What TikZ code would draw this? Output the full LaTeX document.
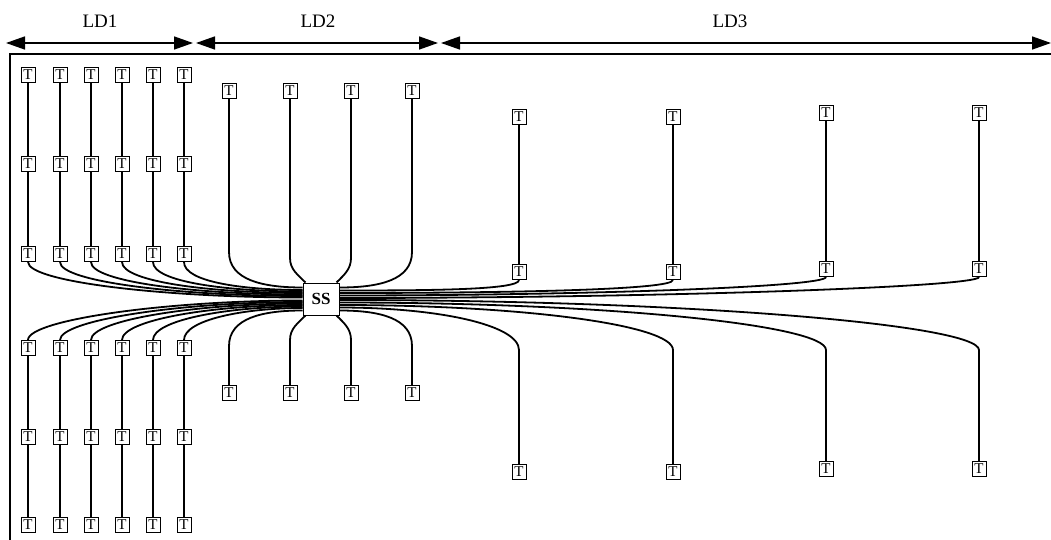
\documentclass[tikz,border=0pt]{standalone}
\usepackage{fontspec}
\setmainfont{Liberation Serif}
\usetikzlibrary{arrows.meta}
\begin{document}
\begin{tikzpicture}[x=1pt,y=1pt,
  term/.style={draw, line width=1pt, fill=white, inner sep=0pt,
    minimum width=14pt, minimum height=15pt, font=\fontsize{15}{15}\selectfont},
  hub/.style={draw, line width=1pt, fill=white, inner sep=0pt,
    minimum width=36pt, minimum height=32pt, font=\fontsize{17}{17}\selectfont\bfseries},
  wire/.style={line width=1.8pt},
  span/.style={line width=1.5pt,
    {Triangle[length=19pt,width=13pt]}-{Triangle[length=19pt,width=13pt]}},
  lbl/.style={font=\fontsize{19}{20}\selectfont}]
\useasboundingbox (0,0) rectangle (1051,-540);

% outer frame (left and top edges)
\draw[line width=2pt] (10,-540) -- (10,-54) -- (1051,-54);

% zone extents
\coordinate (p0) at (6,-43);
\coordinate (p1) at (193,-43);
\coordinate (p2) at (196,-43);
\coordinate (p3) at (438,-43);
\coordinate (p4) at (441,-43);
\coordinate (p5) at (1051,-43);
\draw[span] (p0) -- (p1);
\draw[span] (p2) -- (p3);
\draw[span] (p4) -- (p5);
\node[lbl] (ld1) at (100,-21) {LD1};
\node[lbl] (ld2) at (318,-21) {LD2};
\node[lbl] (ld3) at (730,-21) {LD3};

% substation
\node[hub] (ss) at (321,-299) {SS};

% LD1: six columns of three terminals above and below
\foreach \x [count=\i] in {28,60,91,122,153,184} {
  \node[term] (a\i1) at (\x,-75)  {T};
  \node[term] (a\i2) at (\x,-164) {T};
  \node[term] (a\i3) at (\x,-254) {T};
  \node[term] (a\i4) at (\x,-348) {T};
  \node[term] (a\i5) at (\x,-437) {T};
  \node[term] (a\i6) at (\x,-525) {T};
  \draw[wire] (a\i1) -- (a\i2) -- (a\i3);
  \draw[wire] (a\i4) -- (a\i5) -- (a\i6);
  \draw[wire] (a\i3.south) .. controls +(0,-20) and +({-0.5*(303-\x)},0)
    .. ([yshift={1.5*\i}]ss.west);
  \draw[wire] ([yshift={-1.5*\i}]ss.west) .. controls +({-0.5*(303-\x)},0) and +(0,20)
    .. (a\i4.north);
}

% LD2: four single terminals above and below
\foreach \x [count=\i] in {229,290,351,412} {
  \node[term] (b\i1) at (\x,-91)  {T};
  \node[term] (b\i2) at (\x,-393) {T};
}
\coordinate (k1) at (229,-252);
\coordinate (k2) at (290,-258);
\coordinate (k3) at (351,-258);
\coordinate (k4) at (412,-252);
\coordinate (m1) at (229,-346);
\coordinate (m2) at (290,-340);
\coordinate (m3) at (351,-340);
\coordinate (m4) at (412,-346);
\draw[wire] (b11) -- (k1) .. controls +(0,-28) and +(-40,0) .. ([yshift=11.5]ss.west);
\draw[wire] (b21) -- (k2) to[out=-90,in=135] ([xshift=3]ss.north west);
\draw[wire] (b31) -- (k3) to[out=-90,in=45] ([xshift=-3]ss.north east);
\draw[wire] (b41) -- (k4) .. controls +(0,-28) and +(40,0) .. ([yshift=11.5]ss.east);
\draw[wire] (b12) -- (m1) .. controls +(0,28) and +(-40,0) .. ([yshift=-11.5]ss.west);
\draw[wire] (b22) -- (m2) to[out=90,in=-135] ([xshift=3]ss.south west);
\draw[wire] (b32) -- (m3) to[out=90,in=-45] ([xshift=-3]ss.south east);
\draw[wire] (b42) -- (m4) .. controls +(0,28) and +(40,0) .. ([yshift=-11.5]ss.east);

% LD3: four long feeders
\foreach \x/\t/\m/\b/\o [count=\i] in
  {519/117/272/472/8.5, 673/117/272/472/6, 826/113/269/469/3.5, 979/113/269/469/1} {
  \node[term] (c\i1) at (\x,-\t) {T};
  \node[term] (c\i2) at (\x,-\m) {T};
  \node[term] (c\i3) at (\x,-\b) {T};
  \coordinate (d\i) at (\x,-350);
  \draw[wire] (c\i1) -- (c\i2);
  \draw[wire] (c\i2.south) .. controls +(0,-10) and +({0.5*(\x-339)},0)
    .. ([yshift=\o]ss.east);
  \draw[wire] ([yshift=-\o]ss.east) .. controls +({0.55*(\x-339)},0) and +(0,25)
    .. (d\i) -- (c\i3);
}
\end{tikzpicture}
\end{document}
